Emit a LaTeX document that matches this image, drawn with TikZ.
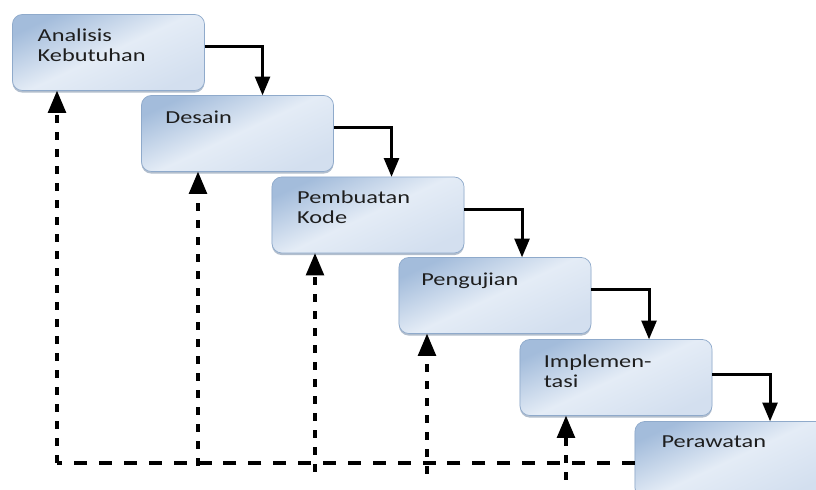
\documentclass[tikz,border=0pt]{standalone}
\usepackage{fontspec}
\setmainfont{Carlito}[FakeStretch=1.33]
\usetikzlibrary{arrows,positioning,shadows}
\definecolor{boxdark}{HTML}{A3BCDB}
\definecolor{boxmid}{HTML}{D3DFEF}
\definecolor{boxlight}{HTML}{E4ECF6}
\definecolor{boxedge}{HTML}{8FAACB}
\definecolor{boxshade}{HTML}{7F93AC}
\definecolor{txtcol}{HTML}{1E1E1E}

\begin{document}
\begin{tikzpicture}[x=0.025cm,y=-0.025cm]
\tikzstyle{stage}=[rectangle,rounded corners=7pt,
draw=boxedge,line width=0.5pt,minimum width=4.8cm,minimum height=1.9cm,
top color=boxdark,bottom color=boxmid,middle color=boxlight,shading angle=25,
drop shadow={shadow xshift=0pt,shadow yshift=-1.5pt,fill=boxshade,opacity=0.6}]
\tikzstyle{txt}=[inner sep=0pt,align=left,text=txtcol,
font=\fontsize{13}{14.3}\selectfont]
\tikzstyle{flow}=[-triangle 45,line width=2.1pt]
\tikzstyle{feed}=[-triangle 45,line width=2.7pt,dash pattern=on 5.7pt off 6.4pt]
\tikzstyle{base}=[line width=2.2pt,dash pattern=on 9.2pt off 8.5pt]
\useasboundingbox (0,0) rectangle (816,490);

% tahapan
\node[stage] at (108.5,52.5) (s1) {};
\node[stage] at (237.5,133.5) (s2) {};
\node[stage] at (368,215) (s3) {};
\node[stage] at (495,295.5) (s4) {};
\node[stage] at (616,377.5) (s5) {};
\node[stage] at (731,459.5) (s6) {};

\node[txt,below right=10pt and 18pt of s1.north west] (t1) {Analisis\\Kebutuhan};
\node[txt,below right=11pt and 17pt of s2.north west] (t2) {Desain};
\node[txt,below right=10pt and 18pt of s3.north west] (t3) {Pembuatan\\Kode};
\node[txt,below right=11pt and 16pt of s4.north west] (t4) {Pengujian};
\node[txt,below right=11pt and 17pt of s5.north west] (t5) {Implemen-\\tasi};
\node[txt,below right=10pt and 19pt of s6.north west] (t6) {Perawatan};

% alur
\draw[flow] ([yshift=4pt]s1.east) -| ([xshift=41pt]s1.east |- s2.north);
\draw[flow] ([yshift=4pt]s2.east) -| ([xshift=41pt]s2.east |- s3.north);
\draw[flow] ([yshift=4pt]s3.east) -| ([xshift=41pt]s3.east |- s4.north);
\draw[flow] ([yshift=4pt]s4.east) -| ([xshift=41pt]s4.east |- s5.north);
\draw[flow] ([yshift=2pt]s5.east) -| ([xshift=41pt]s5.east |- s6.north);

% umpan balik
\coordinate (b1) at (57,463);
\coordinate (b2) at (198,466);
\coordinate (b3) at (315,472);
\coordinate (b4) at (427,474);
\coordinate (b5) at (566,480);
\draw[base] (s6.west |- b1) -- (b1);
\draw[feed] (b1) -- (b1 |- s1.south);
\draw[feed] (b2) -- (b2 |- s2.south);
\draw[feed] (b3) -- (b3 |- s3.south);
\draw[feed] (b4) -- (b4 |- s4.south);
\draw[feed] (b5) -- (b5 |- s5.south);

\end{tikzpicture}
\end{document}
